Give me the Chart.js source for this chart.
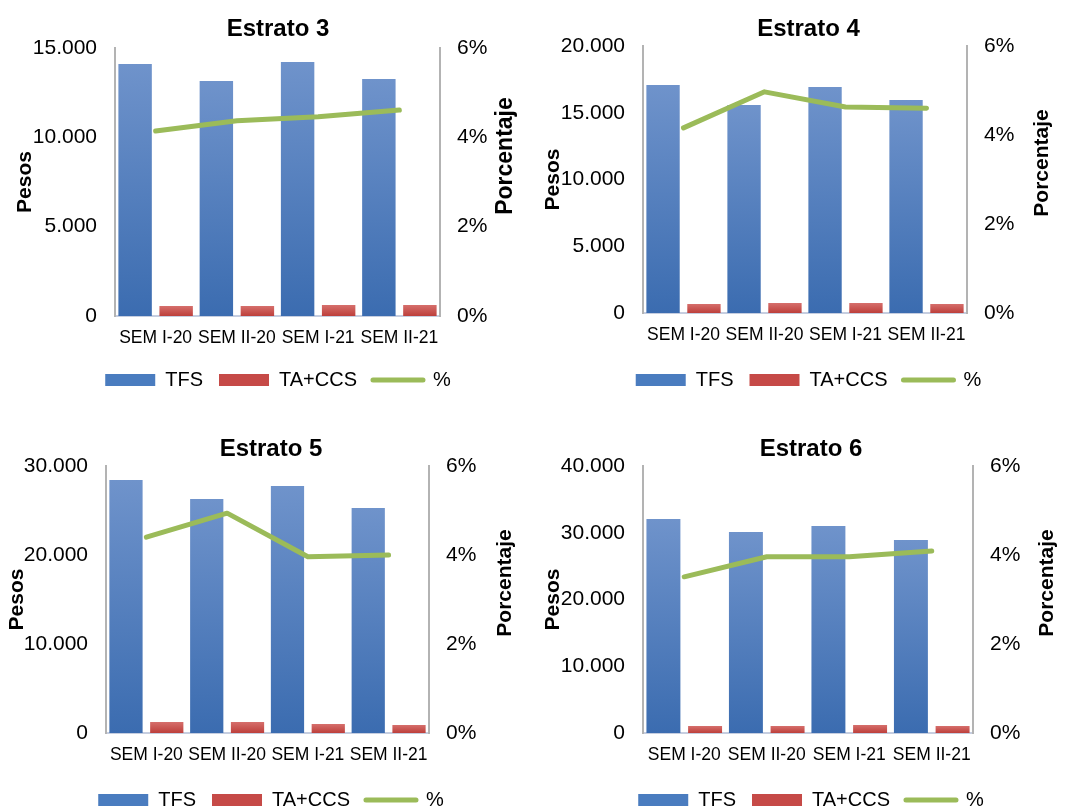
<!DOCTYPE html>
<html>
<head>
<meta charset="utf-8">
<script src="https://cdn.jsdelivr.net/npm/chart.js@4/dist/chart.umd.min.js"></script>
<style>
  html,body{margin:0;padding:0;background:#fff;overflow:hidden;width:1076px;height:809px}
  .panel{position:absolute;width:538px;height:400px}
</style>
</head>
<body>
<div class="panel" style="left:0;top:0"><canvas id="c3"></canvas></div>
<div class="panel" style="left:538px;top:0"><canvas id="c4"></canvas></div>
<div class="panel" style="left:0;top:420px"><canvas id="c5"></canvas></div>
<div class="panel" style="left:538px;top:420px"><canvas id="c6"></canvas></div>
<script>
// categories shared by all four panels
const categories=['SEM I-20','SEM II-20','SEM I-21','SEM II-21'];
const seriesNames=['TFS','TA+CCS','%'];

// Estrato 3
const tfs3=[14100,13150,14220,13270];
const ta3=[560,560,610,620];
const pct3=[4.14,4.37,4.46,4.61];
// Estrato 4
const tfs4=[17080,15580,16930,15950];
const ta4=[680,750,750,680];
const pct4=[4.16,4.97,4.63,4.60];
// Estrato 5
const tfs5=[28430,26290,27750,25280];
const ta5=[1240,1240,1010,900];
const pct5=[4.40,4.94,3.96,4.00];
// Estrato 6
const tfs6=[32060,30110,31010,28910];
const ta6=[1050,1050,1200,1050];
const pct6=[3.51,3.96,3.96,4.09];

// left axis range per panel
const pesosMax=[15000,20000,30000,40000];
const pesosStep=[5000,5000,10000,10000];
const pctTicks=[0,2,4,6];

(function(root){
  'use strict';
  const FONT='"Liberation Sans", Arial, sans-serif';
  const W=538,H=400,LEGEND_PAD=16;
  const thousands=v=>String(v).replace(/\B(?=(\d{3})+(?!\d))/g,'.');

  // draws the right axis title reading bottom-to-top, like the Excel original
  const sideTitle={
    id:'sideTitle',
    afterDraw(chart,args,opts){
      if(!opts||!opts.text)return;
      const ctx=chart.ctx;
      ctx.save();
      ctx.translate(opts.x,opts.y);ctx.rotate(-Math.PI/2);
      ctx.font=`bold ${opts.size}px ${FONT}`;ctx.fillStyle='#000';
      ctx.textAlign='center';ctx.textBaseline='middle';
      ctx.fillText(opts.text,0,0);
      ctx.restore();
    }
  };

  const barFill=(top,bottom)=>context=>{
    const chart=context.chart,y=chart.scales.y;
    if(!chart.chartArea||!y||context.raw==null)return bottom;
    const g=chart.ctx.createLinearGradient(0,y.getPixelForValue(context.raw),0,y.getPixelForValue(0));
    g.addColorStop(0,top);g.addColorStop(1,bottom);
    return g;
  };

  const panels=[
    {id:'c3',title:'Estrato 3',tfs:tfs3,ta:ta3,pct:pct3,padL:18,leftX:115,rightX:440,top:48,bottom:316,pesosX:25,porc:{x:506,y:156,size:23}},
    {id:'c4',title:'Estrato 4',tfs:tfs4,ta:ta4,pct:pct4,padL:3,leftX:105,rightX:429,top:46,bottom:313,pesosX:15,porc:{x:504,y:163,size:21}},
    {id:'c5',title:'Estrato 5',tfs:tfs5,ta:ta5,pct:pct5,padL:4,leftX:106,rightX:429,top:46,bottom:313,pesosX:17,porc:{x:505,y:163,size:21}},
    {id:'c6',title:'Estrato 6',tfs:tfs6,ta:ta6,pct:pct6,padL:8,leftX:105,rightX:435,top:46,bottom:313,pesosX:15,porc:{x:509,y:163,size:21}}
  ];

  panels.forEach((p,i)=>{
    const legendTop=H-(20+LEGEND_PAD+10);
    new Chart(document.getElementById(p.id),{
      type:'bar',
      data:{
        labels:categories,
        datasets:[
          {label:seriesNames[0],data:p.tfs,yAxisID:'y',order:1,backgroundColor:barFill('#6f93cb','#3b6cb0'),legendColor:'#4a7cbf',categoryPercentage:1.01,barPercentage:.815},
          {label:seriesNames[1],data:p.ta,yAxisID:'y',order:1,backgroundColor:barFill('#d66f6c','#bd3f3b'),legendColor:'#c64a47',categoryPercentage:1.01,barPercentage:.815},
          {label:seriesNames[2],data:p.pct,type:'line',yAxisID:'y1',order:0,borderColor:'#9bbb59',legendColor:'#9bbb59',borderWidth:5,borderCapStyle:'round',borderJoinStyle:'round',pointRadius:0,tension:0,fill:false}
        ]
      },
      plugins:[sideTitle],
      options:{
        responsive:true,maintainAspectRatio:false,animation:false,
        layout:{padding:{left:p.padL,right:0,top:0,bottom:0}},
        plugins:{
          title:{display:true,text:p.title,color:'#000',font:{family:FONT,size:24,weight:'bold',lineHeight:1.2},padding:{top:15,bottom:p.top-15-28.8}},
          legend:{position:'bottom',labels:{
            usePointStyle:true,pointStyleWidth:50,boxHeight:12,padding:LEGEND_PAD,color:'#000',font:{family:FONT,size:20},
            generateLabels:chart=>chart.data.datasets.map((ds,k)=>({
              text:ds.label,datasetIndex:k,hidden:false,fillStyle:ds.legendColor,strokeStyle:ds.legendColor,
              lineWidth:ds.type==='line'?5:0,lineCap:'round',pointStyle:ds.type==='line'?'line':'rect',fontColor:'#000'
            }))
          }},
          tooltip:{enabled:false},
          sideTitle:{text:'Porcentaje',x:p.porc.x,y:p.porc.y,size:p.porc.size}
        },
        scales:{
          x:{
            offset:true,grid:{display:false,drawTicks:false},border:{display:true,color:'#c6cee0',width:2},
            ticks:{color:'#000',font:{family:FONT,size:17.5},padding:12,autoSkip:false,maxRotation:0,minRotation:0},
            afterFit:scale=>{scale.height=legendTop-p.bottom;}
          },
          y:{
            position:'left',min:0,max:pesosMax[i],
            grid:{display:false,drawTicks:false},border:{display:true,color:'#b3b3b3',width:2},
            ticks:{stepSize:pesosStep[i],color:'#000',font:{family:FONT,size:21},padding:18,callback:v=>thousands(v)},
            title:{display:true,text:'Pesos',color:'#000',font:{family:FONT,size:21,weight:'bold',lineHeight:1.2},padding:{top:p.pesosX-p.padL-12.6,bottom:0}},
            afterFit:scale=>{scale.width=p.leftX-p.padL;}
          },
          y1:{
            position:'right',min:0,max:pctTicks[pctTicks.length-1],
            grid:{display:false,drawTicks:false},border:{display:true,color:'#b3b3b3',width:2},
            afterBuildTicks:scale=>{scale.ticks=pctTicks.map(v=>({value:v}));},
            ticks:{color:'#000',font:{family:FONT,size:21},padding:17,callback:v=>v+'%'},
            afterFit:scale=>{scale.width=W-p.rightX;}
          }
        }
      }
    });
  });
})(window);
</script>
</body>
</html>
